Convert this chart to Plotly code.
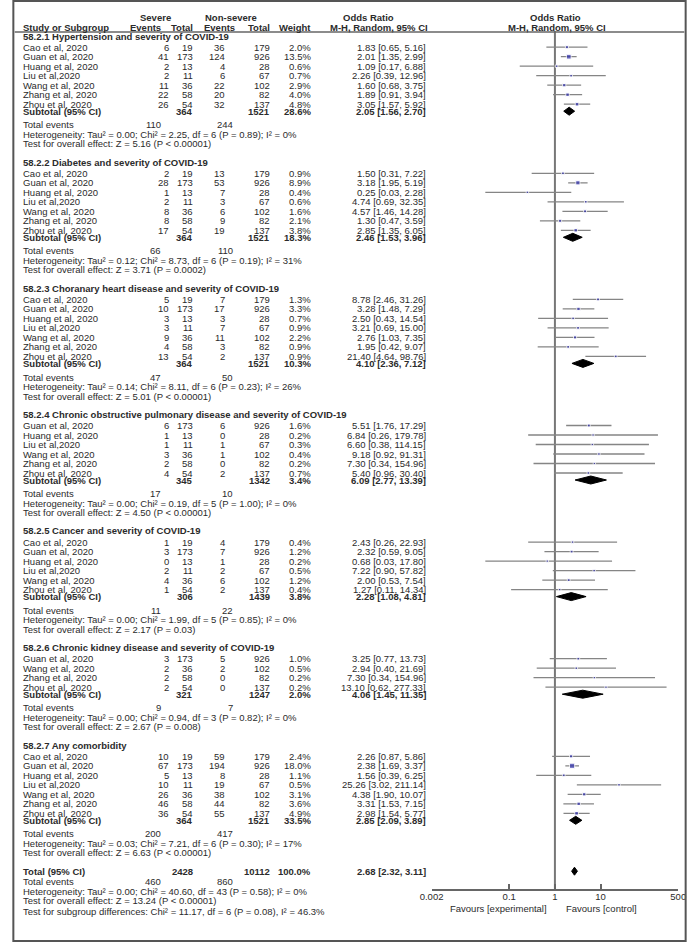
import math
import plotly.graph_objects as go

W, H = 695, 942
INK = "#2b2b2b"
FONT = "Liberation Sans, Arial, sans-serif"
FS = 9.5

section_titles = [
    "58.2.1 Hypertension and severity of COVID-19",
    "58.2.2 Diabetes and severity of COVID-19",
    "58.2.3 Choranary heart disease and severity of COVID-19",
    "58.2.4 Chronic obstructive pulmonary disease and severity of COVID-19",
    "58.2.5 Cancer and severity of COVID-19",
    "58.2.6 Chronic kidney disease and severity of COVID-19",
    "58.2.7 Any comorbidity",
]

study_section = [0, 0, 0, 0, 0, 0, 0,
                 1, 1, 1, 1, 1, 1, 1,
                 2, 2, 2, 2, 2, 2, 2,
                 3, 3, 3, 3, 3, 3,
                 4, 4, 4, 4, 4, 4,
                 5, 5, 5, 5,
                 6, 6, 6, 6, 6, 6, 6]

study_names = [
    "Cao et al, 2020", "Guan et al, 2020", "Huang et al, 2020", "Liu et al,2020", "Wang et al, 2020", "Zhang et al, 2020", "Zhou et al, 2020",
    "Cao et al, 2020", "Guan et al, 2020", "Huang et al, 2020", "Liu et al,2020", "Wang et al, 2020", "Zhang et al, 2020", "Zhou et al, 2020",
    "Cao et al, 2020", "Guan et al, 2020", "Huang et al, 2020", "Liu et al,2020", "Wang et al, 2020", "Zhang et al, 2020", "Zhou et al, 2020",
    "Guan et al, 2020", "Huang et al, 2020", "Liu et al,2020", "Wang et al, 2020", "Zhang et al, 2020", "Zhou et al, 2020",
    "Cao et al, 2020", "Guan et al, 2020", "Huang et al, 2020", "Liu et al,2020", "Wang et al, 2020", "Zhou et al, 2020",
    "Guan et al, 2020", "Wang et al, 2020", "Zhang et al, 2020", "Zhou et al, 2020",
    "Cao et al, 2020", "Guan et al, 2020", "Huang et al, 2020", "Liu et al,2020", "Wang et al, 2020", "Zhang et al, 2020", "Zhou et al, 2020",
]

sev_events = [6, 41, 2, 2, 11, 22, 26,
              2, 28, 1, 2, 8, 8, 17,
              5, 10, 3, 3, 9, 4, 13,
              6, 1, 1, 3, 2, 4,
              1, 3, 0, 2, 4, 1,
              3, 2, 2, 2,
              10, 67, 5, 10, 26, 46, 36]
sev_total = [19, 173, 13, 11, 36, 58, 54,
             19, 173, 13, 11, 36, 58, 54,
             19, 173, 13, 11, 36, 58, 54,
             173, 13, 11, 36, 58, 54,
             19, 173, 13, 11, 36, 54,
             173, 36, 58, 54,
             19, 173, 13, 11, 36, 58, 54]
non_events = [36, 124, 4, 6, 22, 20, 32,
              13, 53, 7, 3, 6, 9, 19,
              7, 17, 3, 7, 11, 3, 2,
              6, 0, 1, 1, 0, 2,
              4, 7, 1, 2, 6, 2,
              5, 2, 0, 0,
              59, 194, 8, 19, 38, 44, 55]
non_total = [179, 926, 28, 67, 102, 82, 137,
             179, 926, 28, 67, 102, 82, 137,
             179, 926, 28, 67, 102, 82, 137,
             926, 28, 67, 102, 82, 137,
             179, 926, 28, 67, 102, 137,
             926, 102, 82, 137,
             179, 926, 28, 67, 102, 82, 137]
weights = [2.0, 13.5, 0.6, 0.7, 2.9, 4.0, 4.8,
           0.9, 8.9, 0.4, 0.6, 1.6, 2.1, 3.8,
           1.3, 3.3, 0.7, 0.9, 2.2, 0.9, 0.9,
           1.6, 0.2, 0.3, 0.4, 0.2, 0.7,
           0.4, 1.2, 0.2, 0.5, 1.2, 0.4,
           1.0, 0.5, 0.2, 0.2,
           2.4, 18.0, 1.1, 0.5, 3.1, 3.6, 4.9]
odds = [1.83, 2.01, 1.09, 2.26, 1.60, 1.89, 3.05,
        1.50, 3.18, 0.25, 4.74, 4.57, 1.30, 2.85,
        8.78, 3.28, 2.50, 3.21, 2.76, 1.95, 21.40,
        5.51, 6.84, 6.60, 9.18, 7.30, 5.40,
        2.43, 2.32, 0.68, 7.22, 2.00, 1.27,
        3.25, 2.94, 7.30, 13.10,
        2.26, 2.38, 1.56, 25.26, 4.38, 3.31, 2.98]
ci_low = [0.65, 1.35, 0.17, 0.39, 0.68, 0.91, 1.57,
          0.31, 1.95, 0.03, 0.69, 1.46, 0.47, 1.35,
          2.46, 1.48, 0.43, 0.69, 1.03, 0.42, 4.64,
          1.76, 0.26, 0.38, 0.92, 0.34, 0.96,
          0.26, 0.59, 0.03, 0.90, 0.53, 0.11,
          0.77, 0.40, 0.34, 0.62,
          0.87, 1.69, 0.39, 3.02, 1.90, 1.53, 1.54]
ci_high = [5.16, 2.99, 6.88, 12.96, 3.75, 3.94, 5.92,
           7.22, 5.19, 2.28, 32.35, 14.28, 3.59, 6.05,
           31.26, 7.29, 14.54, 15.00, 7.35, 9.07, 98.76,
           17.29, 179.78, 114.15, 91.31, 154.96, 30.40,
           22.93, 9.05, 17.80, 57.82, 7.54, 14.34,
           13.73, 21.69, 154.96, 277.33,
           5.86, 3.37, 6.25, 211.14, 10.07, 7.15, 5.77]

# subtotals par sous-groupe
sub_sev_total = [364, 364, 364, 345, 306, 321, 364]
sub_non_total = [1521, 1521, 1521, 1342, 1439, 1247, 1521]
sub_weight = [28.6, 18.3, 10.3, 3.4, 3.8, 2.0, 33.5]
sub_odds = [2.05, 2.46, 4.10, 6.09, 2.28, 4.06, 2.85]
sub_low = [1.56, 1.53, 2.36, 2.77, 1.08, 1.45, 2.09]
sub_high = [2.70, 3.96, 7.12, 13.39, 4.81, 11.35, 3.89]
sub_sev_events = [110, 66, 47, 17, 11, 9, 200]
sub_non_events = [244, 110, 50, 10, 22, 7, 417]
sub_heterogeneity = [
    "Tau² = 0.00; Chi² = 2.25, df = 6 (P = 0.89); I² = 0%",
    "Tau² = 0.12; Chi² = 8.73, df = 6 (P = 0.19); I² = 31%",
    "Tau² = 0.14; Chi² = 8.11, df = 6 (P = 0.23); I² = 26%",
    "Tau² = 0.00; Chi² = 0.19, df = 5 (P = 1.00); I² = 0%",
    "Tau² = 0.00; Chi² = 1.99, df = 5 (P = 0.85); I² = 0%",
    "Tau² = 0.00; Chi² = 0.94, df = 3 (P = 0.82); I² = 0%",
    "Tau² = 0.03; Chi² = 7.21, df = 6 (P = 0.30); I² = 17%",
]
sub_effect = [
    "Z = 5.16 (P < 0.00001)",
    "Z = 3.71 (P = 0.0002)",
    "Z = 5.01 (P < 0.00001)",
    "Z = 4.50 (P < 0.00001)",
    "Z = 2.17 (P = 0.03)",
    "Z = 2.67 (P = 0.008)",
    "Z = 6.63 (P < 0.00001)",
]

total_sev, total_non, total_weight = 2428, 10112, 100.0
total_odds, total_low, total_high = 2.68, 2.32, 3.11
total_sev_events, total_non_events = 460, 860
total_heterogeneity = "Tau² = 0.00; Chi² = 40.60, df = 43 (P = 0.58); I² = 0%"
total_effect = "Z = 13.24 (P < 0.00001)"
subgroup_diff = "Chi² = 11.17, df = 6 (P = 0.08), I² = 46.3%"

axis_ticks = [0.002, 0.1, 1, 10, 500]
axis_labels = ["0.002", "0.1", "1", "10", "500"]

# --- mise en page des lignes (en pixels depuis le haut) ---
TOP, HEAD_GAP, STEP, SUB_GAP, TE_GAP, LINE, NEXT_GAP = 36.0, 11.2, 9.5, 7.0, 13.6, 9.5, 18.3
AXIS_Y, RULE_Y = 890, 31

study_y = []
sec_y, sub_y, te_y, het_y, eff_y = [], [], [], [], []
y = TOP
for s in range(len(section_titles)):
    sec_y.append(y)
    y += HEAD_GAP
    n = study_section.count(s)
    for k in range(n):
        study_y.append(y)
        if k < n - 1:
            y += STEP
    y += SUB_GAP
    sub_y.append(y)
    y += TE_GAP
    te_y.append(y)
    y += LINE
    het_y.append(y)
    y += LINE
    eff_y.append(y)
    y += NEXT_GAP
tot_y = y
tot_te_y = tot_y + 10.6
tot_het_y = tot_te_y + 9.4
tot_eff_y = tot_het_y + 9.6
sgd_y = tot_eff_y + 10.5

# colonnes du tableau (x en pixels)
C_NAME, C_SEV_EV, C_SEV_TOT, C_NON_EV, C_NON_TOT, C_WEIGHT, C_OR = 11, 162, 186, 219, 266, 308, 426
C_TE_SEV, C_TE_NON = 153, 228

ann = []


def put(x, y, s, align="left", bold=False):
    ann.append(dict(x=x / W, y=y, xref="paper", yref="y",
                    text=f"<b>{s}</b>" if bold else str(s), xanchor=align, align=align,
                    yanchor="middle", showarrow=False, borderpad=0, borderwidth=0,
                    font=dict(size=FS, color=INK, family=FONT)))


def fmt_or(o, lo, hi):
    return f"{o:.2f} [{lo:.2f}, {hi:.2f}]"


# en-têtes
put(148, 17, "Severe", "center", True)
put(225, 17, "Non-severe", "center", True)
put(367, 17, "Odds Ratio", "center", True)
put(C_NAME, 27.5, "Study or Subgroup", "left", True)
put(C_TE_SEV, 27.5, "Events", "right", True)
put(C_SEV_TOT, 27.5, "Total", "right", True)
put(C_TE_NON + 2, 27.5, "Events", "right", True)
put(C_NON_TOT, 27.5, "Total", "right", True)
put(C_WEIGHT, 27.5, "Weight", "right", True)
put(428, 27.5, "M-H, Random, 95% CI", "right", True)
put(560, 17, "Odds Ratio", "center", True)
put(561, 27.5, "M-H, Random, 95% CI", "center", True)

for s, title in enumerate(section_titles):
    put(C_NAME, sec_y[s], title, "left", True)
    put(C_NAME, sub_y[s], "Subtotal (95% CI)", "left", True)
    put(C_SEV_TOT, sub_y[s], sub_sev_total[s], "right", True)
    put(C_NON_TOT, sub_y[s], sub_non_total[s], "right", True)
    put(C_WEIGHT, sub_y[s], f"{sub_weight[s]:.1f}%", "right", True)
    put(C_OR, sub_y[s], fmt_or(sub_odds[s], sub_low[s], sub_high[s]), "right", True)
    put(C_NAME, te_y[s], "Total events")
    put(C_TE_SEV, te_y[s], sub_sev_events[s], "right")
    put(C_TE_NON, te_y[s], sub_non_events[s], "right")
    put(C_NAME, het_y[s], "Heterogeneity: " + sub_heterogeneity[s])
    put(C_NAME, eff_y[s], "Test for overall effect: " + sub_effect[s])

for i, name in enumerate(study_names):
    yy = study_y[i]
    put(C_NAME, yy, name)
    put(C_SEV_EV, yy, sev_events[i], "right")
    put(C_SEV_TOT, yy, sev_total[i], "right")
    put(C_NON_EV, yy, non_events[i], "right")
    put(C_NON_TOT, yy, non_total[i], "right")
    put(C_WEIGHT, yy, f"{weights[i]:.1f}%", "right")
    put(C_OR, yy, fmt_or(odds[i], ci_low[i], ci_high[i]), "right")

put(C_NAME, tot_y, "Total (95% CI)", "left", True)
put(C_SEV_TOT, tot_y, total_sev, "right", True)
put(C_NON_TOT, tot_y, total_non, "right", True)
put(C_WEIGHT, tot_y, f"{total_weight:.1f}%", "right", True)
put(C_OR, tot_y, fmt_or(total_odds, total_low, total_high), "right", True)
put(C_NAME, tot_te_y, "Total events")
put(C_TE_SEV, tot_te_y, total_sev_events, "right")
put(C_TE_NON, tot_te_y, total_non_events, "right")
put(C_NAME, tot_het_y, "Heterogeneity: " + total_heterogeneity)
put(C_NAME, tot_eff_y, "Test for overall effect: " + total_effect)
put(C_NAME, sgd_y, "Test for subgroup differences: " + subgroup_diff)

# libellés "Favours"
ann.append(dict(x=0, y=908, xref="x", yref="y", text="Favours [experimental]", xanchor="right",
                xshift=-6, yanchor="middle", showarrow=False, font=dict(size=FS, color=INK, family=FONT)))
ann.append(dict(x=0, y=908, xref="x", yref="y", text="Favours [control]", xanchor="left",
                xshift=9, yanchor="middle", showarrow=False, font=dict(size=FS, color=INK, family=FONT)))

fig = go.Figure()

# ligne de non-effet
fig.add_trace(go.Scatter(x=[1, 1], y=[RULE_Y, AXIS_Y], mode="lines",
                         line=dict(color="#777777", width=2), hoverinfo="skip"))

# IC des études
cx, cy = [], []
for i in range(len(odds)):
    cx += [ci_low[i], ci_high[i], None]
    cy += [study_y[i], study_y[i], None]
fig.add_trace(go.Scatter(x=cx, y=cy, mode="lines", line=dict(color="#858585", width=1.3),
                         hoverinfo="skip"))
fig.add_trace(go.Scatter(x=odds, y=study_y, mode="markers",
                         marker=dict(symbol="square", color="#2c2ca8",
                                     size=[2 + 0.75 * math.sqrt(w) for w in weights])))

# losanges (sous-totaux + total)
for o, lo, hi, yy in list(zip(sub_odds, sub_low, sub_high, sub_y)) + [(total_odds, total_low, total_high, tot_y)]:
    fig.add_trace(go.Scatter(x=[lo, o, hi, o, lo], y=[yy, yy - 4, yy, yy + 4, yy], mode="lines",
                             fill="toself", fillcolor="black", line=dict(color="black", width=1),
                             hoverinfo="skip"))

fig.update_layout(
    width=W, height=H, margin=dict(l=0, r=0, t=0, b=0),
    paper_bgcolor="white", plot_bgcolor="rgba(0,0,0,0)", showlegend=False,
    font=dict(family=FONT, size=FS, color=INK),
    xaxis=dict(type="log", range=[math.log10(0.002), math.log10(500)],
               domain=[432 / W, 686 / W], anchor="free", position=1 - AXIS_Y / H,
               tickvals=axis_ticks, ticktext=axis_labels, showline=True, linecolor="#666666",
               linewidth=2, ticks="inside", ticklen=5, tickcolor="#666666", tickwidth=1.5,
               ticklabelstandoff=-2,
               showgrid=False, zeroline=False, tickfont=dict(size=FS, color=INK)),
    yaxis=dict(range=[H, 0], domain=[0, 1], visible=False),
    annotations=ann,
    shapes=[
        dict(type="rect", xref="paper", yref="paper", x0=0.002, x1=0.998, y0=0.001, y1=0.999,
             line=dict(color="#555555", width=2)),
        dict(type="line", xref="paper", yref="y", x0=0.004, x1=0.996, y0=32, y1=32,
             line=dict(color="#666666", width=1.5)),
    ],
)

fig.write_html("out.html", config={"displayModeBar": False},
               post_script="document.body.style.margin='0';document.body.style.overflow='hidden';")
